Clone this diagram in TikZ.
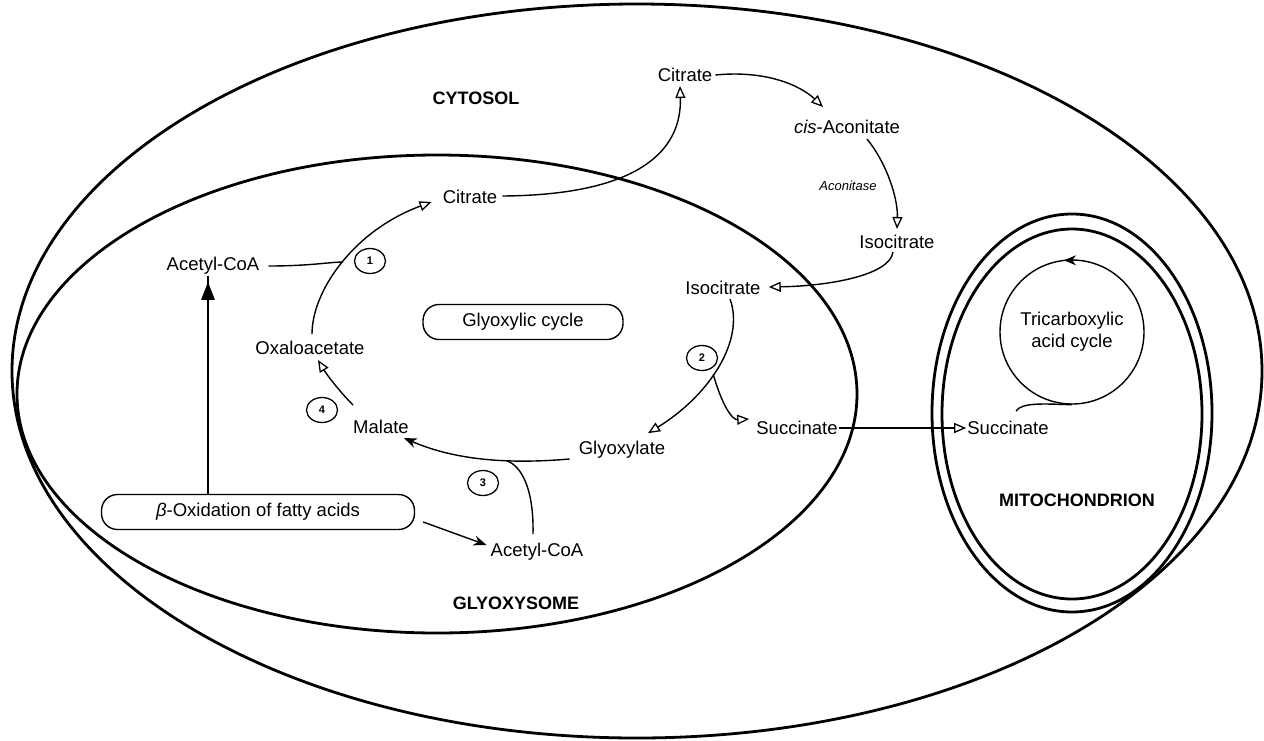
\documentclass[tikz,border=0pt]{standalone}
\usepackage{fontspec}
\setmainfont{Liberation Sans}
\usetikzlibrary{arrows.meta,shapes.geometric,calc}
\begin{document}
\begin{tikzpicture}[x=1pt,y=-1pt,
  lbl/.style={font=\fontsize{18.5}{20}\selectfont, inner sep=1pt},
  region/.style={font=\bfseries\fontsize{18}{20}\selectfont, inner sep=1pt},
  membrane/.style={line width=2.8pt},
  conn/.style={line width=1.4pt},
  opn/.style={conn, -{Triangle[open,length=12pt,width=10pt,line width=1.3pt]}},
  fil/.style={conn, -{Stealth[length=13pt,width=10pt]}},
  num/.style={ellipse, draw, line width=1.3pt, minimum width=31pt, minimum height=25pt, inner sep=0pt, font=\bfseries\fontsize{11}{11}\selectfont},
  pill/.style={draw, line width=1.4pt, rounded corners=16pt, minimum height=35pt, inner sep=0pt, font=\fontsize{18.5}{20}\selectfont}
]
\useasboundingbox (0,0) rectangle (1264,740);
\fill[white] (0,0) rectangle (1264,740);

% membranes
\draw[membrane] (637,371) ellipse [x radius=625pt, y radius=367pt];
\draw[membrane] (437,394) ellipse [x radius=420pt, y radius=239pt];
\draw[membrane] (1072,413) ellipse [x radius=140pt, y radius=199pt];
\draw[membrane] (1072,414) ellipse [x radius=130pt, y radius=185pt];

% region labels
\node[region] (cyto) at (476,98) {CYTOSOL};
\node[region] (glyso) at (516,603) {GLYOXYSOME};
\node[region] (mito) at (1077,500) {MITOCHONDRION};

% metabolite labels
\node[lbl] (citT) at (685,75) {Citrate};
\node[lbl] (cisA) at (847,127) {\textit{cis}-Aconitate};
\node[lbl, font=\itshape\fontsize{13}{14}\selectfont] (acon) at (848,186) {Aconitase};
\node[lbl] (isoC) at (897,242) {Isocitrate};
\node[lbl] (isoG) at (723,288) {Isocitrate};
\node[lbl] (citG) at (470,197) {Citrate};
\node[lbl] (acL) at (213,266) {Acetyl-CoA};
\node[lbl] (oxa) at (310,348) {Oxaloacetate};
\node[lbl] (mal) at (381,427) {Malate};
\node[lbl] (glx) at (622,450) {Glyoxylate};
\node[lbl] (succG) at (797,428) {Succinate};
\node[lbl] (succM) at (1008,428) {Succinate};
\node[lbl] (acB) at (537,552) {Acetyl-CoA};

\node[pill, minimum width=200pt] (cycle) at (523,322) {Glyoxylic cycle};
\node[pill, minimum width=313pt] (beta) at (258,512) {\textit{β}-Oxidation of fatty acids};

\node[circle, draw, line width=1.4pt, minimum size=144pt, inner sep=0pt, align=center, font=\fontsize{18.5}{22}\selectfont] (tca) at (1072,332) {Tricarboxylic\\acid cycle};

\node[num] (n1) at (370,261) {1};
\node[num] (n2) at (702,358) {2};
\node[num] (n3) at (483,483) {3};
\node[num] (n4) at (322,410) {4};

% connectors
\draw[line width=2.8pt, -{Triangle[length=18pt,width=13pt]}] (beta.north -| acL.south) ++(-5,0) coordinate (bst) -- (bst |- acL.south) ++(0,6);
\draw[fil] ($(beta.east)+(8,10)$) -- ($(acB.west)+(-3,-7)$);

\draw[opn] ($(oxa.north)+(2,-6)$) .. controls (312,290) and (355,230) .. coordinate[pos=0.5] (j1) ($(citG.west)+(-10,5)$);
\draw[conn] ($(acL.east)+(8,0)$) .. controls (310,266) and (330,262) .. (j1);

\draw[opn] ($(citG.east)+(4,-1)$) .. controls (640,195) and (682,150) .. ($(citT.south)+(-5,3)$);
\draw[opn] ($(citT.east)+(2,0)$) .. controls (765,70) and (800,85) .. ($(cisA.north)+(-24,-12)$);
\draw[opn] ($(cisA.south)+(20,4)$) .. controls (888,165) and (898,200) .. ($(isoC.north)+(0,-5)$);
\draw[opn] ($(isoC.south)+(-4,2)$) .. controls (890,275) and (830,286) .. ($(isoG.east)+(7,-1)$);

\draw[opn] ($(isoG.south)+(7,3)$) .. controls (745,340) and (710,395) .. coordinate[pos=0.55] (br) ($(glx.north)+(26,-7)$);
\draw[opn] (br) .. controls (722,405) and (732,420) .. ($(succG.west)+(-6,-9)$);
\draw[opn] (succG.east) -- (succM.west);

\draw[fil] ($(glx.west)+(-8,9)$) .. controls (500,465) and (450,458) .. coordinate[pos=0.33] (j3) ($(mal.east)+(-6,11)$);
\draw[conn] ($(acB.north)+(-4,-8)$) .. controls (534,490) and (522,466) .. (j3);

\draw[opn] ($(mal.north)+(-28,-14)$) .. controls (340,392) and (327,375) .. ($(oxa.south)+(8,4)$);

\draw[conn] ($(succM.north)+(8,-9)$) .. controls (1022,402) and (1045,404) .. (tca.south);
\draw[conn, -{Stealth[length=12pt,width=10pt]}] ($(tca.north)+(12,1)$) -- ($(tca.north)+(-8,1)$);

\end{tikzpicture}
\end{document}
